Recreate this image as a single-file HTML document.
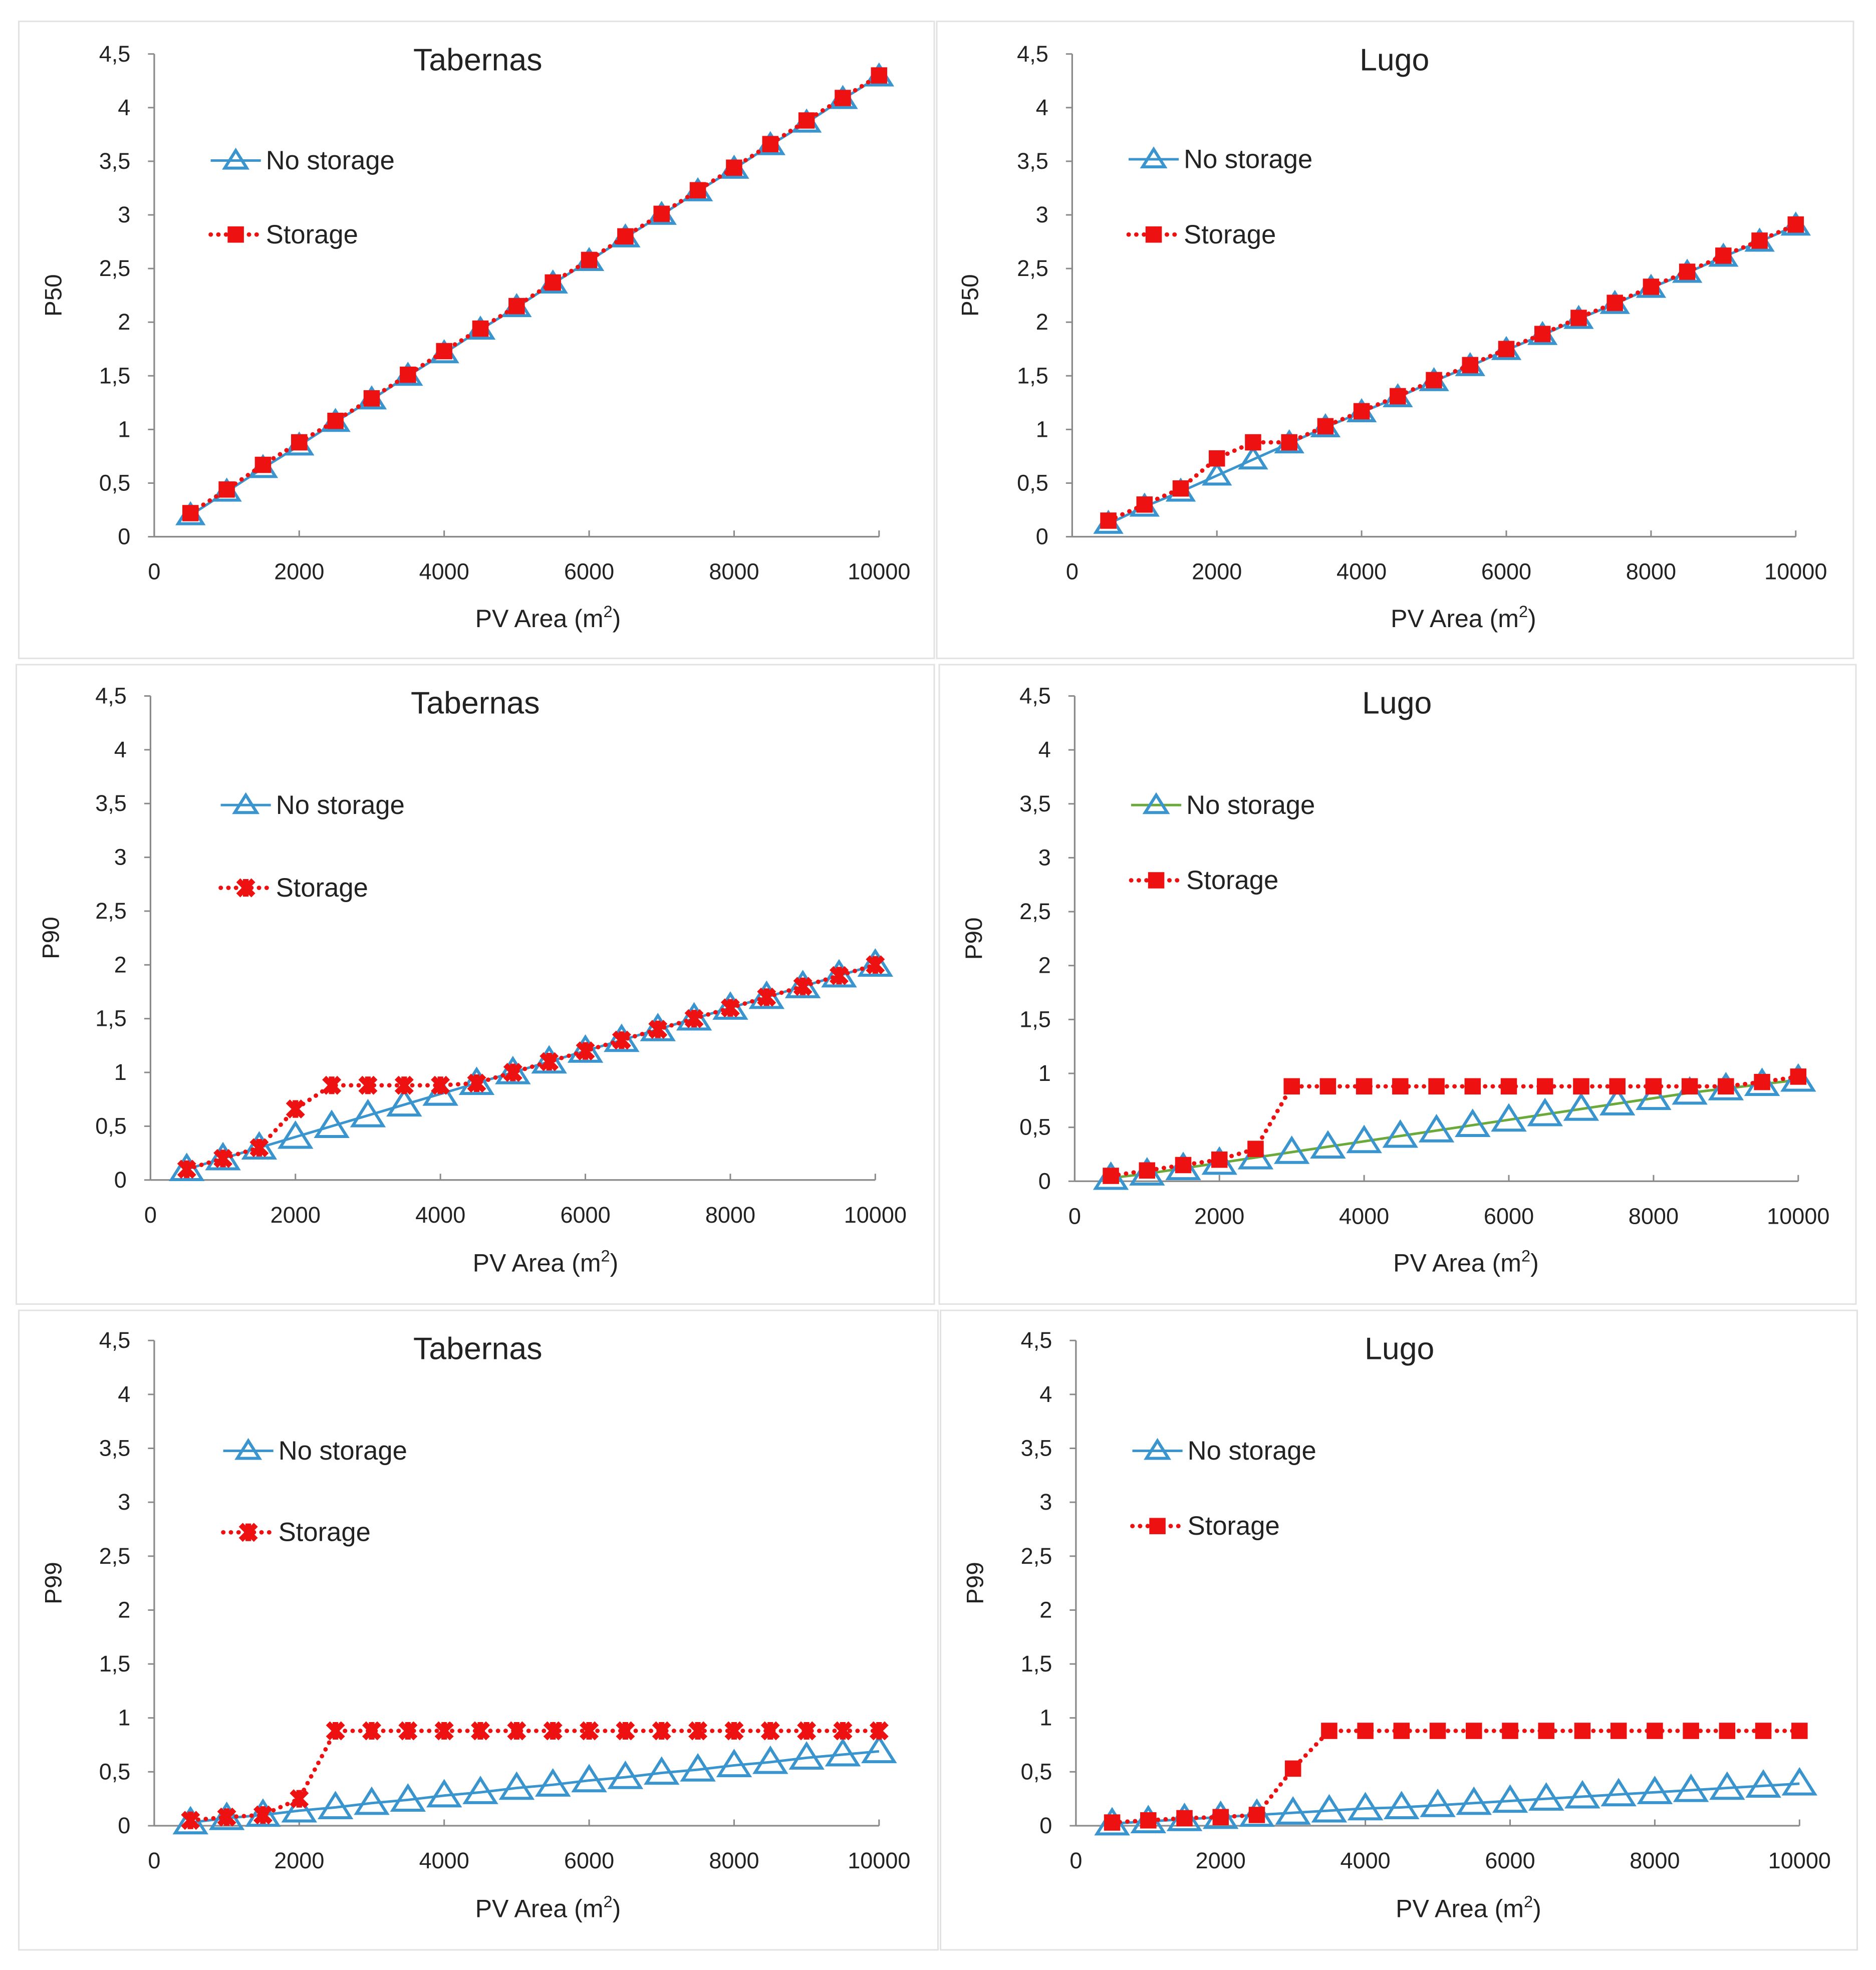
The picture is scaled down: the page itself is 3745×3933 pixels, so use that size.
<!DOCTYPE html>
<html><head><meta charset="utf-8"><style>
html,body{margin:0;padding:0;background:#fff}
svg{display:block}
text{font-family:"Liberation Sans",sans-serif;fill:#222}
</style></head><body>
<svg id="fig" xmlns="http://www.w3.org/2000/svg" width="3745" height="3933" viewBox="0 0 1496 1571"></svg>
<script>
const xCats=[500,1000,1500,2000,2500,3000,3500,4000,4500,5000,5500,6000,6500,7000,7500,8000,8500,9000,9500,10000];
const xTicks=[0,2000,4000,6000,8000,10000];
const yTicks=["0","0,5","1","1,5","2","2,5","3","3,5","4","4,5"];
const tabP50No=[0.2,0.42,0.64,0.85,1.07,1.28,1.5,1.71,1.93,2.14,2.36,2.57,2.79,3.0,3.22,3.43,3.65,3.86,4.08,4.29];
const tabP50St=[0.22,0.44,0.67,0.88,1.08,1.29,1.51,1.73,1.94,2.15,2.37,2.58,2.8,3.01,3.23,3.44,3.66,3.88,4.09,4.3];
const lugP50No=[0.12,0.28,0.42,0.57,0.72,0.87,1.02,1.16,1.3,1.45,1.59,1.74,1.88,2.03,2.17,2.32,2.46,2.61,2.75,2.9];
const lugP50St=[0.15,0.3,0.45,0.73,0.88,0.88,1.03,1.17,1.31,1.46,1.6,1.75,1.89,2.04,2.18,2.33,2.47,2.62,2.76,2.91];
const tabP90No=[0.1,0.2,0.3,0.4,0.5,0.6,0.7,0.8,0.9,1.0,1.1,1.2,1.3,1.4,1.5,1.6,1.7,1.8,1.9,2.0];
const tabP90St=[0.1,0.2,0.3,0.66,0.88,0.88,0.88,0.88,0.9,1.0,1.1,1.2,1.3,1.4,1.5,1.6,1.7,1.8,1.9,2.0];
const lugP90No=[0.03,0.07,0.12,0.17,0.22,0.27,0.32,0.37,0.42,0.47,0.52,0.57,0.62,0.67,0.72,0.77,0.82,0.86,0.9,0.94];
const lugP90St=[0.05,0.1,0.15,0.2,0.3,0.88,0.88,0.88,0.88,0.88,0.88,0.88,0.88,0.88,0.88,0.88,0.88,0.88,0.92,0.97];
const tabP99No=[0.03,0.07,0.1,0.14,0.17,0.21,0.24,0.28,0.31,0.35,0.38,0.42,0.45,0.49,0.52,0.56,0.59,0.63,0.66,0.69];
const tabP99St=[0.05,0.08,0.1,0.25,0.88,0.88,0.88,0.88,0.88,0.88,0.88,0.88,0.88,0.88,0.88,0.88,0.88,0.88,0.88,0.88];
const lugP99No=[0.02,0.04,0.06,0.08,0.1,0.12,0.14,0.16,0.17,0.19,0.21,0.23,0.25,0.27,0.29,0.31,0.33,0.35,0.37,0.39];
const lugP99St=[0.03,0.05,0.07,0.08,0.1,0.53,0.88,0.88,0.88,0.88,0.88,0.88,0.88,0.88,0.88,0.88,0.88,0.88,0.88,0.88];

const NS="http://www.w3.org/2000/svg";
const svg=document.getElementById('fig');
function mk(tag,attrs,parent){const e=document.createElementNS(NS,tag);for(const k in attrs)e.setAttribute(k,attrs[k]);(parent||svg).appendChild(e);return e;}

const panels=[
 {name:'tabernas-p50',box:[15,17,745,525],x0:123,x1:701,y0:428,y45:43,title:'Tabernas',tx:381,ty:56,lx:168,ly1:128,ly2:187,yl:'P50',ylx:42,xlx:437,xly:500,no:tabP50No,st:tabP50St,green:false,star:false,tri:9},
 {name:'lugo-p50',box:[747,17,1478,525],x0:855,x1:1432,y0:428,y45:43,title:'Lugo',tx:1112,ty:56,lx:900,ly1:127,ly2:187,yl:'P50',ylx:773,xlx:1167,xly:500,no:lugP50No,st:lugP50St,green:false,star:false,tri:9},
 {name:'tabernas-p90',box:[13,530,745,1040],x0:120,x1:698,y0:941,y45:555,title:'Tabernas',tx:379,ty:569,lx:176,ly1:642,ly2:708,yl:'P90',ylx:40,xlx:435,xly:1014,no:tabP90No,st:tabP90St,green:false,star:true,tri:11},
 {name:'lugo-p90',box:[749,530,1480,1040],x0:857,x1:1434,y0:942,y45:555,title:'Lugo',tx:1114,ty:569,lx:902,ly1:642,ly2:702,yl:'P90',ylx:776,xlx:1169,xly:1014,no:lugP90No,st:lugP90St,green:true,star:false,tri:11},
 {name:'tabernas-p99',box:[15,1045,748,1555],x0:123,x1:701,y0:1456,y45:1069,title:'Tabernas',tx:381,ty:1084,lx:178,ly1:1157,ly2:1222,yl:'P99',ylx:42,xlx:437,xly:1529,no:tabP99No,st:tabP99St,green:false,star:true,tri:11},
 {name:'lugo-p99',box:[750,1045,1481,1555],x0:858,x1:1435,y0:1456,y45:1069,title:'Lugo',tx:1116,ty:1084,lx:903,ly1:1157,ly2:1217,yl:'P99',ylx:777,xlx:1171,xly:1529,no:lugP99No,st:lugP99St,green:false,star:false,tri:11}
];

function triangle(g,cx,cy,s){
 const t=mk('polygon',{points:`${cx},${cy-s} ${cx-s*1.1},${cy+s*0.75} ${cx+s*1.1},${cy+s*0.75}`,fill:'none',stroke:'#3a95cf','stroke-width':2.4},g);
 
 
}
function stMarker(g,cx,cy,star){
 if(star){
  const p=mk('path',{d:`M${cx-6},${cy-6}L${cx+6},${cy+6}M${cx+6},${cy-6}L${cx-6},${cy+6}M${cx},${cy-7}L${cx},${cy+7}`,stroke:'#ee1111','stroke-width':4.5},g);
  
  
 } else {
  const r=mk('rect',{x:cx-6.5,y:cy-6.5,width:13,height:13,fill:'#ee1111'},g);
  
  
 }
}

panels.forEach(p=>{
 const g=mk('g',{});
 
 
 const [bx0,by0,bx1,by1]=p.box;
 mk('rect',{x:bx0,y:by0,width:bx1-bx0,height:by1-by0,fill:'#fff',stroke:'#e2e2e2','stroke-width':1.2},g);
 const X=v=>p.x0+(p.x1-p.x0)*v/10000;
 const Y=v=>p.y0-(p.y0-p.y45)*v/4.5;
 const ax=mk('g',{},g);
 
 
 mk('line',{x1:p.x0,y1:p.y45,x2:p.x0,y2:p.y0,stroke:'#8a8a8a','stroke-width':1.3},ax);
 mk('line',{x1:p.x0,y1:p.y0,x2:p.x1,y2:p.y0,stroke:'#8a8a8a','stroke-width':1.3},ax);
 yTicks.forEach((lab,i)=>{
  const y=Y(i*0.5);
  mk('line',{x1:p.x0-5,y1:y,x2:p.x0,y2:y,stroke:'#8a8a8a','stroke-width':1.2},ax);
  const t=mk('text',{x:p.x0-19,y:y+6,'text-anchor':'end','font-size':18},ax);t.textContent=lab;
  
  
 });
 xTicks.forEach(v=>{
  const x=X(v);
  mk('line',{x1:x,y1:p.y0-5,x2:x,y2:p.y0,stroke:'#8a8a8a','stroke-width':1.2},ax);
  const t=mk('text',{x:x,y:p.y0+34,'text-anchor':'middle','font-size':18},ax);t.textContent=v;
  
  
 });
 const tt=mk('text',{x:p.tx,y:p.ty,'text-anchor':'middle','font-size':25},g);tt.textContent=p.title;
 
 
 const yl=mk('text',{x:p.ylx,y:(p.y0+p.y45)/2,'text-anchor':'middle','font-size':19,transform:`rotate(-90 ${p.ylx} ${(p.y0+p.y45)/2})`,dy:7},g);yl.textContent=p.yl;
 
 
 const xl=mk('text',{x:p.xlx,y:p.xly,'text-anchor':'middle','font-size':20},g);
 xl.innerHTML='PV Area (m<tspan font-size="13" dy="-8">2</tspan><tspan dy="8">)</tspan>';
 
 
 const noPts=xCats.map((c,i)=>X(c)+','+Y(p.no[i])).join(' ');
 const stPts=xCats.map((c,i)=>X(c)+','+Y(p.st[i])).join(' ');
 const nl=mk('polyline',{points:noPts,fill:'none',stroke:p.green?'#6aaa3a':'#3a95cf','stroke-width':2},g);
 
 
 xCats.forEach((c,i)=>triangle(g,X(c),Y(p.no[i]),p.tri));
 const sl=mk('polyline',{points:stPts,fill:'none',stroke:'#ee1111','stroke-width':3.5,'stroke-dasharray':'0.1 6','stroke-linecap':'round'},g);
 
 
 xCats.forEach((c,i)=>stMarker(g,X(c),Y(p.st[i]),p.star));
 const lg=mk('g',{},g);
 
 
 mk('line',{x1:p.lx,y1:p.ly1,x2:p.lx+40,y2:p.ly1,stroke:p.green?'#6aaa3a':'#3a95cf','stroke-width':2},lg);
 triangle(lg,p.lx+20,p.ly1,8);
 const l1=mk('text',{x:p.lx+44,y:p.ly1+7,'font-size':21},lg);l1.textContent='No storage';
 
 
 mk('line',{x1:p.lx,y1:p.ly2,x2:p.lx+40,y2:p.ly2,stroke:'#ee1111','stroke-width':3.5,'stroke-dasharray':'0.1 6','stroke-linecap':'round'},lg);
 stMarker(lg,p.lx+20,p.ly2,p.star);
 const l2=mk('text',{x:p.lx+44,y:p.ly2+7,'font-size':21},lg);l2.textContent='Storage';
 
 
});
</script>
</body></html>
